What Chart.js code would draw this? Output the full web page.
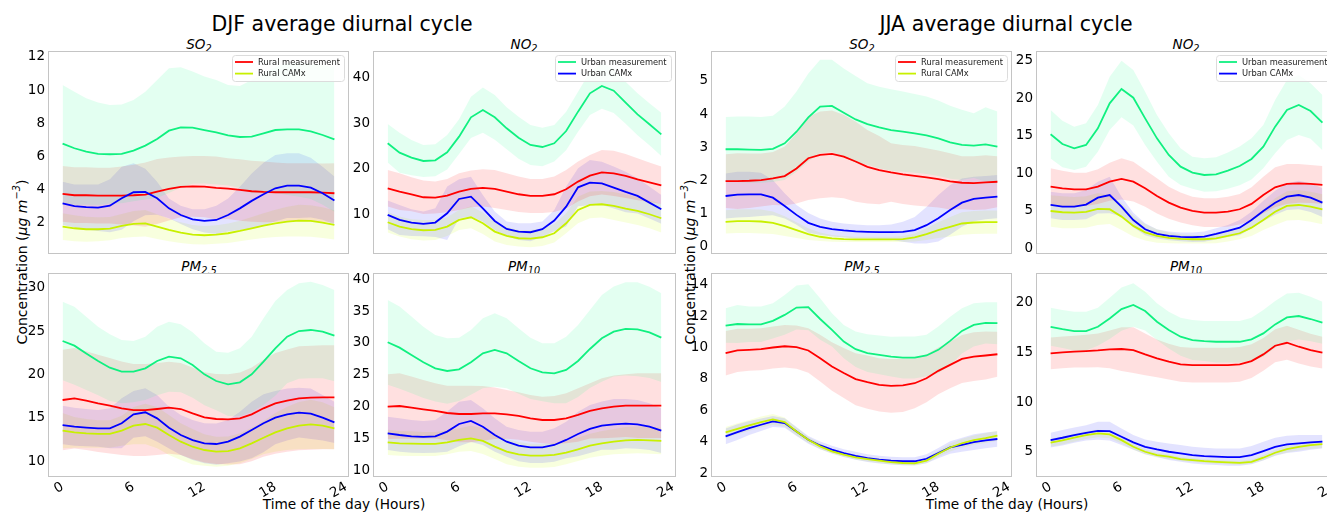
<!DOCTYPE html>
<html>
<head>
<meta charset="utf-8">
<script src="https://cdn.jsdelivr.net/npm/chart.js@4.4.1/dist/chart.umd.min.js"></script>
<style>
  body { margin: 0; width: 1327px; height: 513px; overflow: hidden; background: #fff; position: relative; font-family: "DejaVu Sans", sans-serif; }
  canvas { position: absolute; }
  .txt { position: absolute; white-space: nowrap; color: #000; transform: translate(-50%, -50%); }
  .ttl { font-size: 20.5px; }
  .sub { font-size: 13.5px; font-style: italic; }
  .sub span { font-size: 0.72em; position: relative; top: 0.35em; }
  .xl { font-size: 13.7px; }
  .yl { font-size: 14px; transform: translate(-50%, -50%) rotate(-90deg); }
  .yl sup { font-size: 0.7em; position: relative; top: -0.1em; }
</style>
</head>
<body>

<div class="txt ttl" style="left:342px; top:24px">DJF average diurnal cycle</div>
<div class="txt ttl" style="left:1006px; top:24px">JJA average diurnal cycle</div>

<div class="txt sub" style="left:199px; top:44px">SO<span>2</span></div>
<div class="txt sub" style="left:524px; top:44px">NO<span>2</span></div>
<div class="txt sub" style="left:862px; top:44px">SO<span>2</span></div>
<div class="txt sub" style="left:1186px; top:44px">NO<span>2</span></div>
<div class="txt sub" style="left:199px; top:266px">PM<span>2.5</span></div>
<div class="txt sub" style="left:524px; top:266px">PM<span>10</span></div>
<div class="txt sub" style="left:862px; top:266px">PM<span>2.5</span></div>
<div class="txt sub" style="left:1186px; top:266px">PM<span>10</span></div>

<div class="txt yl" style="left:21px; top:262px">Concentration (<i>μg m<sup>−3</sup></i>)</div>
<div class="txt yl" style="left:689px; top:262px">Concentration (<i>μg m<sup>−3</sup></i>)</div>

<div class="txt xl" style="left:344px; top:504px">Time of the day (Hours)</div>
<div class="txt xl" style="left:1007px; top:504px">Time of the day (Hours)</div>

<script>
/* ===== DATA ===== */
const hours = [0,1,2,3,4,5,6,7,8,9,10,11,12,13,14,15,16,17,18,19,20,21,22,23];
const xTicks = [0, 6, 12, 18, 24];

// UM = urban measurement, UC = urban CAMx, RM = rural measurement, RC = rural CAMx; *Sd = half width of the band

// DJF SO2
const djfSo2Ticks = [2, 4, 6, 8, 10, 12];
const djfSo2UM = [6.78,6.50,6.30,6.16,6.14,6.16,6.36,6.66,7.06,7.56,7.76,7.74,7.60,7.46,7.28,7.18,7.20,7.40,7.60,7.64,7.64,7.52,7.30,7.04];
const djfSo2UMSd = [3.53,3.41,3.21,3.09,2.97,2.97,3.05,3.25,3.55,3.76,3.62,3.38,3.22,3.15,3.03,3.07,3.41,3.60,3.80,3.96,4.06,4.08,4.20,4.36];
const djfSo2UC = [3.18,3.02,2.96,2.92,3.04,3.49,3.85,3.87,3.49,2.88,2.48,2.22,2.12,2.18,2.48,2.88,3.33,3.73,4.09,4.25,4.25,4.13,3.79,3.35];
const djfSo2UCSd = [1.30,1.30,1.35,1.40,1.60,1.90,1.75,1.40,1.00,0.60,0.55,0.60,0.70,0.85,1.00,1.30,1.65,1.90,2.00,1.95,1.95,1.80,1.60,1.45];
const djfSo2RM = [3.75,3.67,3.67,3.65,3.65,3.65,3.67,3.71,3.89,4.05,4.17,4.21,4.19,4.11,4.07,3.99,3.91,3.87,3.85,3.85,3.85,3.85,3.83,3.79];
const djfSo2RMSd = [1.68,1.68,1.68,1.68,1.68,1.75,1.83,1.94,1.96,1.90,1.83,1.83,1.85,1.89,1.83,1.85,1.84,1.83,1.80,1.75,1.75,1.75,1.75,1.80];
const djfSo2RC = [1.78,1.68,1.62,1.62,1.66,1.82,1.94,1.98,1.78,1.58,1.42,1.30,1.26,1.30,1.38,1.52,1.68,1.84,1.98,2.08,2.14,2.12,2.02,1.88];
const djfSo2RCSd = [0.80,0.78,0.75,0.72,0.70,0.72,0.78,0.80,0.75,0.68,0.62,0.58,0.56,0.56,0.58,0.62,0.68,0.75,0.82,0.90,0.95,0.95,0.92,0.88];

// DJF NO2
const djfNo2Ticks = [10, 20, 30, 40];
const djfNo2UM = [25.59,23.54,22.44,21.71,21.86,23.61,27.05,31.29,32.90,31.29,28.88,26.83,25.22,24.78,25.59,28.29,32.54,36.56,38.17,37.15,34.51,31.95,29.76,27.56];
const djfNo2UMSd = [4.24,4.39,3.88,3.51,3.51,3.80,3.80,4.54,4.97,4.90,4.61,4.61,4.39,4.24,4.02,4.24,4.39,4.75,4.97,4.90,4.61,4.61,4.61,4.75];
const djfNo2UC = [9.86,8.76,8.18,7.89,8.18,10.23,13.37,13.88,11.32,8.54,6.79,6.20,6.06,6.72,8.62,11.69,15.93,16.96,16.81,15.86,14.91,14.03,12.57,11.10];
const djfNo2UCSd = [3.15,3.29,2.93,2.71,3.15,5.85,4.32,4.39,2.93,2.05,1.61,1.83,1.98,1.68,2.34,4.39,4.17,4.97,4.75,4.61,4.46,3.88,3.51,3.15];
const djfNo2RM = [15.71,14.98,14.40,13.74,13.67,14.10,14.98,15.57,15.79,15.57,14.98,14.40,14.03,14.03,14.40,15.49,17.18,18.49,19.22,19.00,18.42,17.69,17.03,16.37];
const djfNo2RMSd = [4.02,4.02,3.73,3.66,3.51,3.66,4.02,4.02,4.10,4.17,4.02,3.88,3.73,3.73,3.88,4.24,4.39,4.54,4.90,4.97,4.83,4.61,4.32,4.10];
const djfNo2RC = [8.25,7.30,6.72,6.50,6.57,7.30,8.76,9.35,8.03,6.20,5.25,4.74,4.67,4.96,5.84,8.03,10.96,12.06,12.20,11.84,11.25,10.74,10.01,9.13];
const djfNo2RCSd = [2.27,2.19,2.19,2.27,2.19,2.05,2.19,2.41,2.34,2.19,1.98,1.83,1.90,1.90,2.05,2.19,2.93,2.93,2.93,3.07,3.07,3.07,3.07,3.15];

// JJA SO2
const jjaSo2Ticks = [0, 1, 2, 3, 4, 5];
const jjaSo2UM = [2.94,2.94,2.93,2.92,2.95,3.12,3.47,3.90,4.23,4.25,4.04,3.84,3.70,3.60,3.52,3.47,3.42,3.36,3.27,3.15,3.07,3.05,3.09,3.02];
const jjaSo2UMSd = [0.97,0.99,1.00,0.99,1.00,1.11,1.21,1.33,1.41,1.39,1.34,1.31,1.23,1.23,1.23,1.21,1.19,1.17,1.14,1.10,1.06,0.98,1.12,1.06];
const jjaSo2UC = [1.53,1.57,1.58,1.58,1.48,1.23,0.96,0.72,0.60,0.53,0.49,0.46,0.45,0.44,0.44,0.45,0.50,0.65,0.86,1.11,1.33,1.44,1.48,1.51];
const jjaSo2UCSd = [0.68,0.69,0.68,0.65,0.53,0.38,0.30,0.30,0.25,0.22,0.21,0.21,0.20,0.21,0.23,0.30,0.40,0.55,0.70,0.75,0.73,0.67,0.65,0.65];
const jjaSo2RM = [1.98,1.98,1.99,2.01,2.06,2.13,2.36,2.67,2.77,2.80,2.72,2.57,2.41,2.31,2.24,2.18,2.14,2.09,2.04,1.97,1.93,1.92,1.94,1.96];
const jjaSo2RMSd = [0.81,0.84,0.82,0.80,0.80,0.89,1.06,1.26,1.31,1.31,1.26,1.21,1.11,1.03,0.88,0.89,0.90,0.88,0.86,0.85,0.80,0.81,0.82,0.77];
const jjaSo2RC = [0.75,0.77,0.77,0.76,0.72,0.62,0.50,0.38,0.30,0.25,0.23,0.22,0.22,0.22,0.22,0.23,0.28,0.38,0.50,0.60,0.70,0.73,0.74,0.74];
const jjaSo2RCSd = [0.35,0.36,0.36,0.36,0.34,0.30,0.24,0.18,0.13,0.10,0.09,0.08,0.08,0.08,0.08,0.09,0.12,0.18,0.24,0.30,0.34,0.35,0.35,0.35];

// JJA NO2
const jjaNo2Ticks = [0, 5, 10, 15, 20, 25];
const jjaNo2UM = [15.19,13.90,13.32,13.77,15.99,19.32,21.23,20.07,17.32,14.65,12.43,10.88,10.08,9.77,9.86,10.35,10.97,11.90,13.54,16.21,18.43,19.09,18.29,16.74];
const jjaNo2UMSd = [3.24,3.11,2.89,2.89,3.11,3.55,3.77,3.69,3.55,3.11,2.89,2.44,2.13,2.22,2.26,2.40,2.58,2.75,2.89,3.55,4.00,4.00,3.69,3.69];
const jjaNo2UC = [5.77,5.55,5.55,5.82,6.75,7.10,5.55,3.77,2.53,1.91,1.64,1.51,1.47,1.55,1.91,2.31,2.75,3.77,4.97,6.08,6.88,7.10,6.75,6.08];
const jjaNo2UCSd = [1.78,1.78,1.78,1.95,2.13,2.44,1.33,0.98,0.80,0.62,0.58,0.58,0.62,0.67,0.75,0.80,1.02,1.11,1.38,1.60,1.78,1.91,1.91,1.91];
const jjaNo2RM = [8.21,7.99,7.86,7.86,8.21,8.88,9.24,8.88,7.99,6.97,6.08,5.42,4.97,4.75,4.75,4.88,5.20,5.91,7.10,8.13,8.57,8.66,8.57,8.44];
const jjaNo2RMSd = [2.44,2.35,2.22,2.22,2.31,2.53,2.75,2.66,2.44,2.35,2.13,2.00,1.91,1.91,1.91,2.00,2.04,2.22,2.44,2.66,2.66,2.58,2.53,2.53];
const jjaNo2RC = [4.97,4.80,4.75,4.84,5.24,5.20,4.22,2.98,2.13,1.64,1.38,1.24,1.20,1.20,1.33,1.64,2.00,2.75,3.77,4.88,5.64,5.77,5.55,5.20];
const jjaNo2RCSd = [2.09,2.13,2.09,2.09,2.13,1.95,1.78,1.42,1.11,0.89,0.71,0.62,0.58,0.58,0.67,0.75,0.80,1.11,1.33,1.78,1.95,2.00,2.00,2.00];

// DJF PM2.5
const djfPm25Ticks = [10, 15, 20, 25, 30];
const djfPm25UM = [23.85,23.31,22.42,21.54,20.77,20.31,20.31,20.69,21.54,22.04,21.85,21.08,20.00,19.23,18.85,19.08,20.00,21.46,23.00,24.35,25.00,25.12,24.92,24.46];
const djfPm25UMSd = [4.54,4.50,4.23,3.96,3.85,3.65,3.54,3.65,3.96,4.04,3.92,3.77,3.58,3.38,3.65,3.92,4.35,5.00,5.46,5.38,5.50,5.58,5.38,5.27];
const djfPm25UC = [14.15,13.96,13.85,13.77,13.77,14.35,15.38,15.62,14.92,13.85,13.00,12.42,12.04,11.96,12.23,12.81,13.58,14.35,15.00,15.38,15.58,15.46,15.00,14.46];
const djfPm25UCSd = [2.23,2.19,2.15,2.12,2.31,2.88,2.69,2.77,2.69,2.42,2.31,2.31,2.31,2.38,2.50,2.88,3.27,3.35,3.08,3.00,2.88,2.92,2.62,2.38];
const djfPm25RM = [17.04,17.23,16.96,16.65,16.38,16.08,15.88,15.88,16.00,16.15,16.00,15.50,15.04,14.85,14.81,14.92,15.38,16.08,16.65,16.96,17.23,17.31,17.35,17.35];
const djfPm25RMSd = [5.80,5.80,5.70,5.60,5.50,5.40,5.30,5.30,5.30,5.30,5.30,5.30,5.20,5.20,5.20,5.30,5.40,5.60,5.80,5.90,6.00,6.00,6.00,6.00];
const djfPm25RC = [13.50,13.31,13.19,13.12,13.12,13.50,14.08,14.27,13.85,13.00,12.23,11.65,11.27,11.08,11.15,11.46,12.04,12.69,13.31,13.77,14.08,14.23,14.08,13.77];
const djfPm25RCSd = [2.04,1.77,1.65,1.58,1.58,1.73,2.15,2.35,2.38,2.31,2.12,2.04,1.81,1.73,1.69,1.73,1.81,1.92,2.23,2.50,2.73,2.85,2.69,2.42];

// DJF PM10
const djfPm10Ticks = [10, 15, 20, 25, 30, 35, 40];
const djfPm10UM = [30.09,29.25,28.10,26.94,26.00,25.58,25.84,26.94,28.36,28.88,28.36,27.15,26.00,25.37,25.21,25.74,27.15,29.04,30.72,31.77,32.19,32.13,31.66,30.82];
const djfPm10UMSd = [6.66,6.45,6.03,5.61,5.24,5.14,4.98,5.09,5.51,5.77,5.51,5.14,4.82,4.56,4.72,5.24,5.66,6.14,6.82,7.08,7.34,7.39,7.18,6.97];
const djfPm10UC = [15.77,15.51,15.30,15.20,15.30,16.04,17.24,17.71,16.82,15.51,14.46,13.83,13.57,13.57,13.94,14.73,15.67,16.46,16.98,17.19,17.29,17.19,16.82,16.19];
const djfPm10UCSd = [2.62,2.62,2.57,2.52,2.57,3.15,3.51,3.30,2.88,2.62,2.36,2.46,2.46,2.46,2.62,2.88,3.51,3.78,3.78,3.99,3.88,3.83,3.67,3.51];
const djfPm10RM = [19.97,20.07,19.81,19.55,19.29,18.97,18.81,18.81,18.92,18.92,18.76,18.50,18.13,17.87,17.87,18.13,18.66,19.29,19.71,19.97,20.13,20.13,20.13,20.13];
const djfPm10RMSd = [5.09,5.14,4.88,4.61,4.35,4.30,4.46,4.46,4.30,4.04,3.83,3.72,3.67,3.67,3.78,3.93,4.20,4.35,4.72,4.88,4.93,5.09,5.09,5.09];
const djfPm10RC = [14.36,14.20,14.15,14.10,14.10,14.36,14.73,14.99,14.57,13.68,12.89,12.47,12.26,12.26,12.37,12.73,13.26,13.83,14.20,14.46,14.67,14.73,14.67,14.57];
const djfPm10RCSd = [1.99,1.94,1.94,1.89,1.89,1.89,1.84,1.99,2.05,1.94,1.99,1.94,1.89,1.89,1.89,1.84,1.84,1.89,1.94,1.99,2.10,2.10,2.10,2.10];

// JJA PM2.5
const jjaPm25Ticks = [2, 4, 6, 8, 10, 12, 14];
const jjaPm25UM = [11.41,11.51,11.49,11.49,11.71,12.09,12.56,12.58,11.83,11.13,10.39,9.90,9.65,9.54,9.43,9.37,9.37,9.50,9.86,10.43,11.07,11.45,11.58,11.56];
const jjaPm25UMSd = [1.10,1.21,1.13,1.13,1.13,1.27,1.40,1.47,1.32,1.06,1.06,1.13,1.21,1.23,1.27,1.34,1.34,1.32,1.49,1.55,1.44,1.38,1.32,1.34];
const jjaPm25UC = [4.34,4.61,4.87,5.08,5.29,5.19,4.65,4.12,3.76,3.49,3.27,3.10,2.95,2.85,2.79,2.75,2.75,2.91,3.27,3.63,3.80,3.97,4.08,4.17];
const jjaPm25UCSd = [0.50,0.50,0.45,0.40,0.35,0.30,0.28,0.25,0.25,0.25,0.25,0.25,0.25,0.25,0.25,0.25,0.25,0.28,0.33,0.40,0.45,0.50,0.50,0.50];
const jjaPm25RM = [9.65,9.82,9.86,9.90,10.01,10.09,10.03,9.82,9.33,8.80,8.38,7.99,7.80,7.63,7.56,7.59,7.73,8.05,8.52,8.90,9.28,9.43,9.50,9.58];
const jjaPm25RMSd = [1.42,1.38,1.34,1.34,1.34,1.36,1.38,1.42,1.49,1.55,1.59,1.66,1.70,1.70,1.72,1.70,1.59,1.53,1.49,1.49,1.53,1.55,1.53,1.44];
const jjaPm25RC = [4.59,4.82,5.04,5.25,5.42,5.25,4.65,4.12,3.70,3.38,3.17,3.00,2.89,2.79,2.70,2.64,2.62,2.79,3.23,3.63,3.90,4.10,4.23,4.38];
const jjaPm25RCSd = [0.35,0.35,0.35,0.35,0.35,0.30,0.25,0.20,0.18,0.15,0.15,0.15,0.15,0.15,0.15,0.15,0.15,0.17,0.20,0.25,0.28,0.30,0.32,0.32];

// JJA PM10
const jjaPm10Ticks = [5, 10, 15, 20];
const jjaPm10UM = [17.58,17.35,17.15,17.15,17.58,18.42,19.36,19.77,19.16,18.09,17.25,16.58,16.24,16.14,16.07,16.07,16.07,16.31,16.91,17.82,18.52,18.66,18.36,17.99];
const jjaPm10UMSd = [1.91,1.91,1.95,1.95,1.91,2.08,2.18,2.18,1.95,1.85,1.85,1.91,2.01,2.01,2.08,2.08,2.08,2.18,2.35,2.35,2.42,2.35,2.25,2.11];
const jjaPm10UC = [6.17,6.41,6.68,6.91,7.11,7.08,6.51,5.94,5.50,5.23,5.00,4.83,4.66,4.56,4.50,4.46,4.46,4.66,5.07,5.50,5.74,5.84,5.94,6.01];
const jjaPm10UCSd = [0.74,0.77,0.77,0.77,0.91,0.94,0.84,0.74,0.74,0.77,0.84,0.84,0.84,0.84,0.84,0.87,0.87,0.91,0.94,0.91,0.87,0.84,0.74,0.67];
const jjaPm10RM = [14.90,15.00,15.07,15.13,15.20,15.30,15.34,15.23,14.80,14.40,14.06,13.79,13.72,13.72,13.72,13.72,13.79,14.13,14.80,15.67,15.97,15.57,15.23,14.97];
const jjaPm10RMSd = [1.60,1.60,1.60,1.65,1.70,1.90,2.20,2.30,2.10,1.90,1.80,1.75,1.75,1.75,1.75,1.75,1.75,1.70,1.65,1.65,1.70,1.70,1.65,1.60];
const jjaPm10RC = [5.91,6.14,6.41,6.68,6.85,6.74,6.17,5.50,5.00,4.66,4.50,4.26,4.16,4.06,3.99,3.93,3.89,3.99,4.40,4.90,5.27,5.50,5.67,5.77];
const jjaPm10RCSd = [0.40,0.40,0.40,0.40,0.40,0.38,0.35,0.30,0.28,0.25,0.22,0.20,0.20,0.20,0.20,0.20,0.20,0.22,0.25,0.30,0.35,0.38,0.40,0.40];

/* ===== STYLE ===== */
const FONT = '"DejaVu Sans", sans-serif';
const STYLE = {
  UM: { line: '#10f080', band: 'rgba(0,255,127,0.11)' },
  UC: { line: '#0000ff', band: 'rgba(0,0,255,0.11)' },
  RM: { line: '#ff0000', band: 'rgba(255,0,0,0.12)' },
  RC: { line: '#c8f000', band: 'rgba(200,255,0,0.13)' }
};
const BAND_ORDER = ['UM', 'RM', 'UC', 'RC'];
const LINE_ORDER = ['RC', 'UC', 'RM', 'UM']; // first = drawn on top
const LEGENDS = {
  rural: [['Rural measurement', STYLE.RM.line], ['Rural CAMx', STYLE.RC.line]],
  urban: [['Urban measurement', STYLE.UM.line], ['Urban CAMx', STYLE.UC.line]]
};

// plot boxes in page pixels
const panels = [
  { l: 49, t: 52, r: 348, b: 253, yMin: 0.19, yMax: 12.30, yTicks: djfSo2Ticks, legend: 'rural', bottom: false,
    d: { UM: [djfSo2UM, djfSo2UMSd], UC: [djfSo2UC, djfSo2UCSd], RM: [djfSo2RM, djfSo2RMSd], RC: [djfSo2RC, djfSo2RCSd] } },
  { l: 374, t: 52, r: 675, b: 253, yMin: 1.5, yMax: 45.64, yTicks: djfNo2Ticks, legend: 'urban', bottom: false,
    d: { UM: [djfNo2UM, djfNo2UMSd], UC: [djfNo2UC, djfNo2UCSd], RM: [djfNo2RM, djfNo2RMSd], RC: [djfNo2RC, djfNo2RCSd] } },
  { l: 712, t: 52, r: 1011, b: 253, yMin: -0.19, yMax: 5.875, yTicks: jjaSo2Ticks, legend: 'rural', bottom: false,
    d: { UM: [jjaSo2UM, jjaSo2UMSd], UC: [jjaSo2UC, jjaSo2UCSd], RM: [jjaSo2RM, jjaSo2RMSd], RC: [jjaSo2RC, jjaSo2RCSd] } },
  { l: 1037, t: 52, r: 1336, b: 253, yMin: -0.63, yMax: 26.16, yTicks: jjaNo2Ticks, legend: 'urban', bottom: false,
    d: { UM: [jjaNo2UM, jjaNo2UMSd], UC: [jjaNo2UC, jjaNo2UCSd], RM: [jjaNo2RM, jjaNo2RMSd], RC: [jjaNo2RC, jjaNo2RCSd] } },
  { l: 49, t: 274, r: 348, b: 476, yMin: 8.27, yMax: 31.58, yTicks: djfPm25Ticks, legend: null, bottom: true,
    d: { UM: [djfPm25UM, djfPm25UMSd], UC: [djfPm25UC, djfPm25UCSd], RM: [djfPm25RM, djfPm25RMSd], RC: [djfPm25RC, djfPm25RCSd] } },
  { l: 374, t: 274, r: 675, b: 476, yMin: 9.06, yMax: 40.83, yTicks: djfPm10Ticks, legend: null, bottom: true,
    d: { UM: [djfPm10UM, djfPm10UMSd], UC: [djfPm10UC, djfPm10UCSd], RM: [djfPm10RM, djfPm10RMSd], RC: [djfPm10RC, djfPm10RCSd] } },
  { l: 712, t: 274, r: 1011, b: 476, yMin: 1.81, yMax: 14.70, yTicks: jjaPm25Ticks, legend: null, bottom: true,
    d: { UM: [jjaPm25UM, jjaPm25UMSd], UC: [jjaPm25UC, jjaPm25UCSd], RM: [jjaPm25RM, jjaPm25RMSd], RC: [jjaPm25RC, jjaPm25RCSd] } },
  { l: 1037, t: 274, r: 1336, b: 476, yMin: 2.56, yMax: 22.89, yTicks: jjaPm10Ticks, legend: null, bottom: true,
    d: { UM: [jjaPm10UM, jjaPm10UMSd], UC: [jjaPm10UC, jjaPm10UCSd], RM: [jjaPm10RM, jjaPm10RMSd], RC: [jjaPm10RC, jjaPm10RCSd] } }
];

/* ===== PLUGINS ===== */
const frame = {
  id: 'frame',
  afterDatasetsDraw(chart) {
    const a = chart.chartArea, c = chart.ctx;
    c.save();
    c.strokeStyle = '#c4c4c4';
    c.lineWidth = 1;
    c.strokeRect(Math.round(a.left) - 0.5, Math.round(a.top) - 0.5, Math.round(a.right - a.left) + 1, Math.round(a.bottom - a.top) + 1);
    c.restore();
  }
};

const boxLegend = {
  id: 'boxLegend',
  afterDraw(chart, args, opts) {
    const items = opts.items;
    if (!items) return;
    const a = chart.chartArea, c = chart.ctx;
    c.save();
    c.font = '8.3px ' + FONT;
    const tw = Math.max(...items.map(it => c.measureText(it[0]).width));
    const w = Math.round(tw + 30), h = 26;
    const x = Math.round(a.right) - 4 - w, y = Math.round(a.top) + 3;
    c.beginPath();
    c.roundRect(x + 0.5, y + 0.5, w, h, 3);
    c.fillStyle = 'rgba(255,255,255,0.8)';
    c.fill();
    c.strokeStyle = '#dcdcdc';
    c.lineWidth = 1;
    c.stroke();
    items.forEach((it, i) => {
      const yy = y + 7 + i * 11.6;
      c.strokeStyle = it[1];
      c.lineWidth = 1.8;
      c.beginPath();
      c.moveTo(x + 3, yy);
      c.lineTo(x + 21, yy);
      c.stroke();
      c.fillStyle = '#222';
      c.textBaseline = 'middle';
      c.fillText(it[0], x + 26, yy + 0.5);
    });
    c.restore();
  }
};

/* ===== CHARTS ===== */
const YW = 40, PR = 12, PT = 14, PB = 14, XH = 32;

function pts(arr, sd, sign) {
  return hours.map((h, i) => ({ x: h, y: arr[i] + sign * (sd ? sd[i] : 0) }));
}

panels.forEach(p => {
  const cv = document.createElement('canvas');
  const xh = p.bottom ? XH : 0;
  cv.width = YW + (p.r - p.l) + PR;
  cv.height = PT + (p.b - p.t) + xh + PB;
  cv.style.left = (p.l - YW) + 'px';
  cv.style.top = (p.t - PT) + 'px';
  document.body.appendChild(cv);

  const datasets = [];
  // bands: lower edge, then upper edge filled down to it
  BAND_ORDER.forEach(k => {
    const [m, sd] = p.d[k];
    datasets.push({ data: pts(m, sd, -1), borderColor: 'transparent', borderWidth: 0, pointRadius: 0, fill: false });
    datasets.push({ data: pts(m, sd, 1), borderColor: 'transparent', borderWidth: 0, pointRadius: 0, fill: '-1', backgroundColor: STYLE[k].band });
  });
  LINE_ORDER.forEach(k => {
    datasets.push({ data: pts(p.d[k][0], null, 0), borderColor: STYLE[k].line, borderWidth: 1.8, pointRadius: 0, fill: false, tension: 0 });
  });

  new Chart(cv, {
    type: 'line',
    data: { datasets },
    options: {
      responsive: false,
      animation: false,
      events: [],
      layout: { padding: { top: PT, right: PR, bottom: PB, left: 0 } },
      plugins: {
        legend: { display: false },
        tooltip: { enabled: false },
        filler: { drawTime: 'beforeDatasetsDraw' },
        boxLegend: { items: p.legend ? LEGENDS[p.legend] : null }
      },
      scales: {
        x: {
          type: 'linear', min: -1.15, max: 24.15,
          grid: { display: false, drawTicks: false },
          border: { display: false },
          afterBuildTicks: s => { s.ticks = xTicks.map(v => ({ value: v })); },
          afterFit: s => { s.height = xh; },
          ticks: { display: p.bottom, minRotation: 30, maxRotation: 30, padding: 3, color: '#000', font: { family: FONT, size: 13.5 } }
        },
        y: {
          type: 'linear', min: p.yMin, max: p.yMax,
          grid: { display: false, drawTicks: false },
          border: { display: false },
          afterBuildTicks: s => { s.ticks = p.yTicks.map(v => ({ value: v })); },
          afterFit: s => { s.width = YW; },
          ticks: { padding: 4, color: '#000', font: { family: FONT, size: 13.5 } }
        }
      }
    },
    plugins: [frame, boxLegend]
  });
});
</script>
</body>
</html>
